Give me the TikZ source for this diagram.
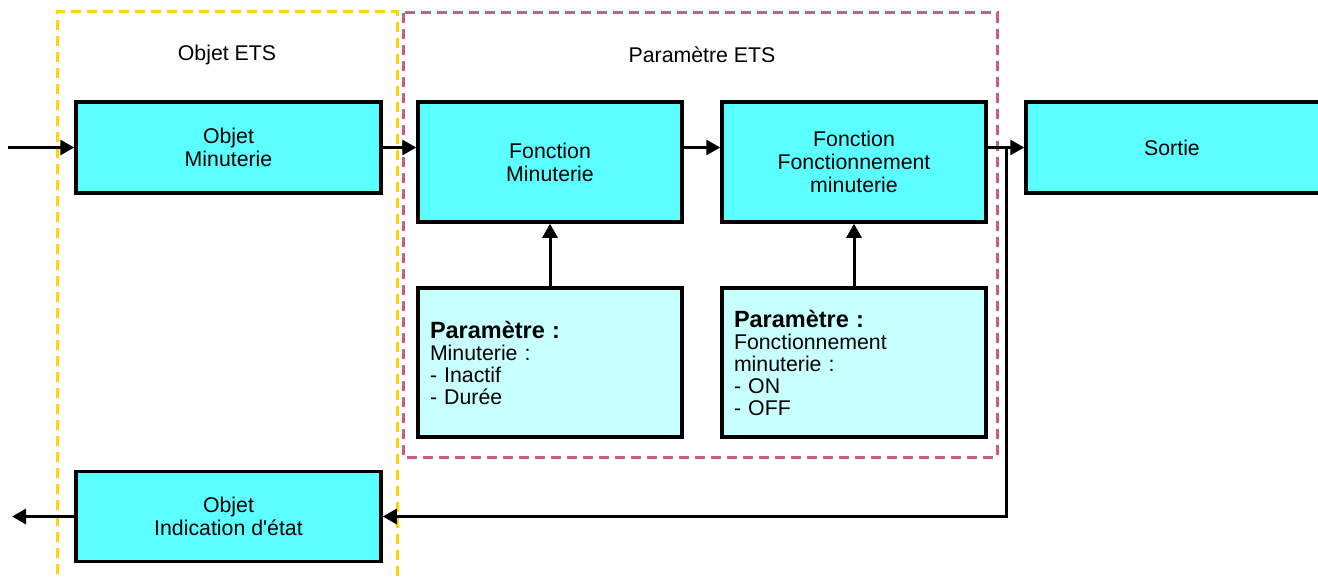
\documentclass[tikz,border=0pt]{standalone}
\usepackage{fontspec}
\setmainfont{Liberation Sans}[Ligatures=TeXOff]
\usetikzlibrary{arrows.meta}
\definecolor{boxcyan}{RGB}{91,255,255}
\definecolor{parcyan}{RGB}{200,255,255}
\definecolor{etsyellow}{RGB}{255,212,0}
\definecolor{etspink}{RGB}{208,90,135}
\begin{document}
\begin{tikzpicture}[x=1pt,y=-1pt,
  blk/.style={draw=black, line width=3.5pt, fill=boxcyan, rectangle, inner sep=0pt,
    align=center, font=\fontsize{21.3}{23}\selectfont},
  parbox/.style={draw=black, line width=3.5pt, fill=parcyan, rectangle, inner xsep=12pt, inner ysep=0pt,
    text width=240pt, minimum width=264pt, minimum height=149pt, align=left,
    font=\fontsize{21.3}{22}\selectfont},
  conn/.style={line width=3pt, -{Triangle[length=14pt,width=15pt]}},
  frame/.style={line width=3pt, dash pattern=on 10pt off 6pt},
  lbl/.style={font=\fontsize{21.3}{23}\selectfont, inner sep=0pt}]
\useasboundingbox (0,0) rectangle (1318,578);
% dashed frames
\draw[frame, etsyellow] (57,590) -- (57,12) -- (397,12) -- (397,590);
\draw[frame, etspink] (403,13) rectangle (997,457);
\node[lbl] (tobj) at (227,55) {Objet ETS};
\node[lbl] (tpar) at (702,55) {Paramètre ETS};
% boxes
\node[blk, minimum width=305pt, minimum height=91pt] (om) at (228.5,147.5) {Objet\\Minuterie};
\node[blk, minimum width=264pt, minimum height=120pt] (fm) at (550,162) {Fonction\\Minuterie};
\node[blk, minimum width=264pt, minimum height=120pt] (fo) at (854,162) {Fonction\\Fonctionnement\\minuterie};
\node[blk, minimum width=304pt, minimum height=91pt] (so) at (1178,147.5) {};
\node[lbl] (sot) at (1172,147.5) {Sortie};
\node[parbox] (p1) at (550,362.5) {{\fontsize{23.5}{27}\selectfont\bfseries Paramètre :}\\Minuterie :\\- Inactif\\- Durée};
\node[parbox] (p2) at (854,362.5) {{\fontsize{23.5}{25}\selectfont\bfseries Paramètre :}\\Fonctionnement\\minuterie :\\- ON\\- OFF};
\node[blk, minimum width=305pt, minimum height=90pt] (ind) at (228.5,516.5) {Objet\\Indication d'état};
% connectors
\coordinate (ay) at (0,147.5);
\coordinate (src) at (8,147.5);
\coordinate (jn) at (1006,147.5);
\coordinate (dst) at (12,516.5);
\draw[conn] (src) -- (om.west);
\draw[conn] (om.east) -- (om.east -| fm.west);
\draw[conn] (fm.east |- ay) -- (fo.west |- ay);
\draw[conn] (fo.east |- ay) -- (so.west);
\draw[conn] (jn) |- (ind.east);
\draw[conn] (ind.west) -- (dst);
\draw[conn] (p1.north) -- (fm.south);
\draw[conn] (p2.north) -- (fo.south);
\end{tikzpicture}
\end{document}
